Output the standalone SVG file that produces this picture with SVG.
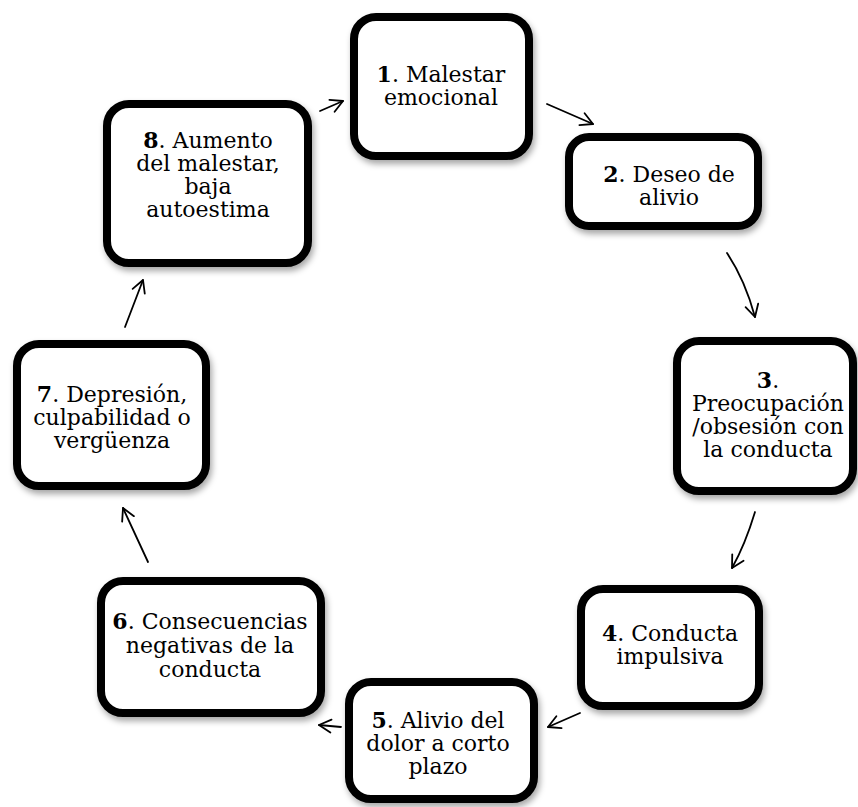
<svg xmlns="http://www.w3.org/2000/svg" width="858" height="807" viewBox="0 0 858 807">
<defs>
<filter id="sh" x="-10%" y="-10%" width="125%" height="130%">
<feDropShadow dx="2" dy="4" stdDeviation="3" flood-color="#000" flood-opacity="0.35"/>
</filter>
<marker id="ah" viewBox="0 0 16 16" refX="14" refY="8" markerWidth="16" markerHeight="16" markerUnits="userSpaceOnUse" orient="auto">
<path d="M2,1.5 L14,8 L2,14.5" fill="none" stroke="#000" stroke-width="1.8" stroke-linecap="round" stroke-linejoin="round"/>
</marker>
<style>
.box{fill:#fff;stroke:#000;stroke-width:8;filter:url(#sh)}
.t{font-family:"DejaVu Serif","Liberation Serif",serif;font-size:22px;fill:#000;text-anchor:middle}
.b{font-weight:bold}
.c{fill:none;stroke:#000;stroke-width:1.8;stroke-linecap:round;marker-end:url(#ah)}
</style>
</defs>
<rect width="858" height="807" fill="#fff"/>
<g id="n1"><rect class="box" x="354" y="17" width="175" height="139" rx="22"/>
<text class="t" x="441" y="82"><tspan class="b">1</tspan>. Malestar</text>
<text class="t" x="441" y="105">emocional</text></g>
<g id="n2"><rect class="box" x="569" y="137" width="189" height="89" rx="20"/>
<text class="t" x="669" y="182"><tspan class="b">2</tspan>. Deseo de</text>
<text class="t" x="669" y="205">alivio</text></g>
<g id="n3"><rect class="box" x="677" y="341" width="176" height="150" rx="22"/>
<text class="t" x="768" y="388"><tspan class="b">3</tspan>.</text>
<text class="t" x="768" y="411">Preocupación</text>
<text class="t" x="768" y="434">/obsesión con</text>
<text class="t" x="768" y="457">la conducta</text></g>
<g id="n4"><rect class="box" x="581" y="589" width="178" height="117" rx="22"/>
<text class="t" x="670" y="641"><tspan class="b">4</tspan>. Conducta</text>
<text class="t" x="670" y="664">impulsiva</text></g>
<g id="n5"><rect class="box" x="349" y="682" width="185" height="117" rx="22"/>
<text class="t" x="438" y="728"><tspan class="b">5</tspan>. Alivio del</text>
<text class="t" x="438" y="751">dolor a corto</text>
<text class="t" x="438" y="774">plazo</text></g>
<g id="n6"><rect class="box" x="101" y="581" width="220" height="132" rx="22"/>
<text class="t" x="210" y="629"><tspan class="b">6</tspan>. Consecuencias</text>
<text class="t" x="210" y="653">negativas de la</text>
<text class="t" x="210" y="677">conducta</text></g>
<g id="n7"><rect class="box" x="17" y="344" width="189" height="142" rx="22"/>
<text class="t" x="112" y="402"><tspan class="b">7</tspan>. Depresión,</text>
<text class="t" x="112" y="425">culpabilidad o</text>
<text class="t" x="112" y="448">vergüenza</text></g>
<g id="n8"><rect class="box" x="107" y="104" width="201" height="159" rx="22"/>
<text class="t" x="208" y="148"><tspan class="b">8</tspan>. Aumento</text>
<text class="t" x="208" y="171">del malestar,</text>
<text class="t" x="208" y="194">baja</text>
<text class="t" x="208" y="217">autoestima</text></g>
<g id="connectors">
<path class="c" d="M320,111 L343,101"/>
<path class="c" d="M547,104 L593,124"/>
<path class="c" d="M727,253 Q745,280 755,317"/>
<path class="c" d="M755,512 Q745,545 732,568"/>
<path class="c" d="M580,713 L548,727"/>
<path class="c" d="M341,727 L319,725"/>
<path class="c" d="M148,562 L123,508"/>
<path class="c" d="M125,327 L143,280"/>
</g>
</svg>
